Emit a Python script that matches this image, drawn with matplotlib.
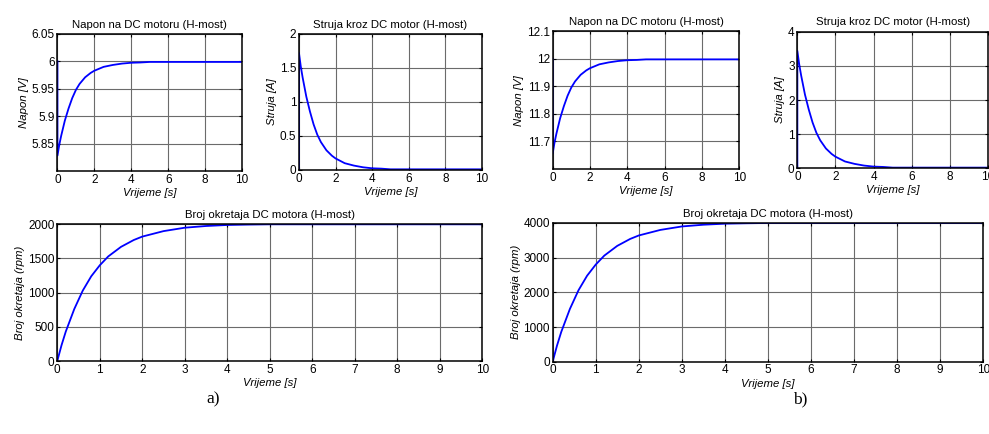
import matplotlib
matplotlib.use("Agg")
import matplotlib.pyplot as plt
from matplotlib.ticker import FuncFormatter

plt.rcParams['font.family'] = ['Liberation Sans', 'DejaVu Sans']

# time samples (s)
t = [0, 0.1, 0.2, 0.4, 0.6, 0.8, 1.0, 1.2, 1.5, 1.8, 2.0, 2.5, 3.0, 3.5, 4.0, 4.5, 5.0, 10]

# case a) 6 V supply
napon_a = [5.828, 5.848, 5.864, 5.892, 5.914, 5.933, 5.948, 5.959, 5.971, 5.979,
           5.983, 5.990, 5.9935, 5.996, 5.9975, 5.998, 5.999, 5.999]
struja_a = [1.72, 1.52, 1.36, 1.08, 0.86, 0.67, 0.52, 0.41, 0.29, 0.21,
            0.17, 0.10, 0.065, 0.04, 0.025, 0.02, 0.01, 0.01]
brzina_a = [0, 230, 430, 760, 1030, 1240, 1400, 1530, 1670, 1770,
            1820, 1900, 1950, 1975, 1990, 1996, 2000, 2000]

# case b) 12 V supply
napon_b = [11.656, 11.696, 11.728, 11.784, 11.828, 11.866, 11.896, 11.918, 11.942, 11.958,
           11.966, 11.980, 11.987, 11.992, 11.995, 11.996, 11.998, 11.998]
struja_b = [3.44, 3.04, 2.72, 2.16, 1.72, 1.34, 1.04, 0.82, 0.58, 0.42,
            0.34, 0.20, 0.13, 0.08, 0.05, 0.04, 0.02, 0.02]
brzina_b = [0, 460, 860, 1520, 2060, 2480, 2800, 3060, 3340, 3540,
            3640, 3800, 3900, 3950, 3980, 3992, 4000, 4000]

# initial value before the step (at t = 0)
napon0 = {'a': 6.0, 'b': 12.0}

FS_TICK = 8.5
FS_TEXT = 8.2
gfmt = FuncFormatter(lambda v, pos: f"{v:g}")


def style_axes(ax, title, ylabel, xticks, ylim, yticks):
    ax.set_title(title, fontsize=FS_TEXT, pad=4.5)
    ax.set_xlabel("Vrijeme [s]", fontsize=FS_TEXT, style='italic', labelpad=1.5)
    ax.set_ylabel(ylabel, fontsize=FS_TEXT, style='italic', labelpad=2)
    ax.set_xlim(0, 10)
    ax.set_ylim(*ylim)
    ax.set_xticks(xticks)
    ax.set_yticks(yticks)
    ax.xaxis.set_major_formatter(gfmt)
    ax.yaxis.set_major_formatter(gfmt)
    ax.grid(True, color='0.42', linewidth=0.8)
    ax.tick_params(direction='in', length=2.5, width=0.8, labelsize=FS_TICK,
                   top=True, right=True, pad=2)
    for s in ax.spines.values():
        s.set_linewidth(1.1)


def plot_case(fig, rects, napon, struja, brzina, v0, vlim, vticks, ilim, iticks, nlim, nticks):
    ax1 = fig.add_axes(rects[0])
    ax1.plot([0] + t, [v0] + napon, color='blue', lw=1.3)
    style_axes(ax1, "Napon na DC motoru (H-most)", "Napon [V]", range(0, 11, 2), vlim, vticks)

    ax2 = fig.add_axes(rects[1])
    ax2.plot([0] + t, [0] + struja, color='blue', lw=1.3)
    style_axes(ax2, "Struja kroz DC motor (H-most)", "Struja [A]", range(0, 11, 2), ilim, iticks)

    ax3 = fig.add_axes(rects[2])
    ax3.plot(t, brzina, color='blue', lw=1.3)
    style_axes(ax3, "Broj okretaja DC motora (H-most)", "Broj okretaja (rpm)", range(0, 11), nlim, nticks)


fig = plt.figure(figsize=(9.89, 4.34), dpi=100)

plot_case(fig,
          [[0.0581, 0.606, 0.1866, 0.3157], [0.3023, 0.6083, 0.185, 0.3134], [0.0579, 0.1682, 0.4297, 0.315]],
          napon_a, struja_a, brzina_a, napon0['a'],
          (5.8, 6.05), [5.85, 5.9, 5.95, 6.0, 6.05],
          (0, 2), [0, 0.5, 1, 1.5, 2],
          (0, 2000), [0, 500, 1000, 1500, 2000])

plot_case(fig,
          [[0.5588, 0.6106, 0.1887, 0.3173], [0.8062, 0.6122, 0.1928, 0.3147], [0.5588, 0.1666, 0.4354, 0.3196]],
          napon_b, struja_b, brzina_b, napon0['b'],
          (11.6, 12.1), [11.7, 11.8, 11.9, 12.0, 12.1],
          (0, 4), [0, 1, 2, 3, 4],
          (0, 4000), [0, 1000, 2000, 3000, 4000])

fig.text(0.216, 0.08, "a)", fontsize=12.5, family='Liberation Serif', ha='center', va='center')
fig.text(0.809, 0.08, "b)", fontsize=12.5, family='Liberation Serif', ha='center', va='center')

fig.savefig("out.png", dpi=100)
